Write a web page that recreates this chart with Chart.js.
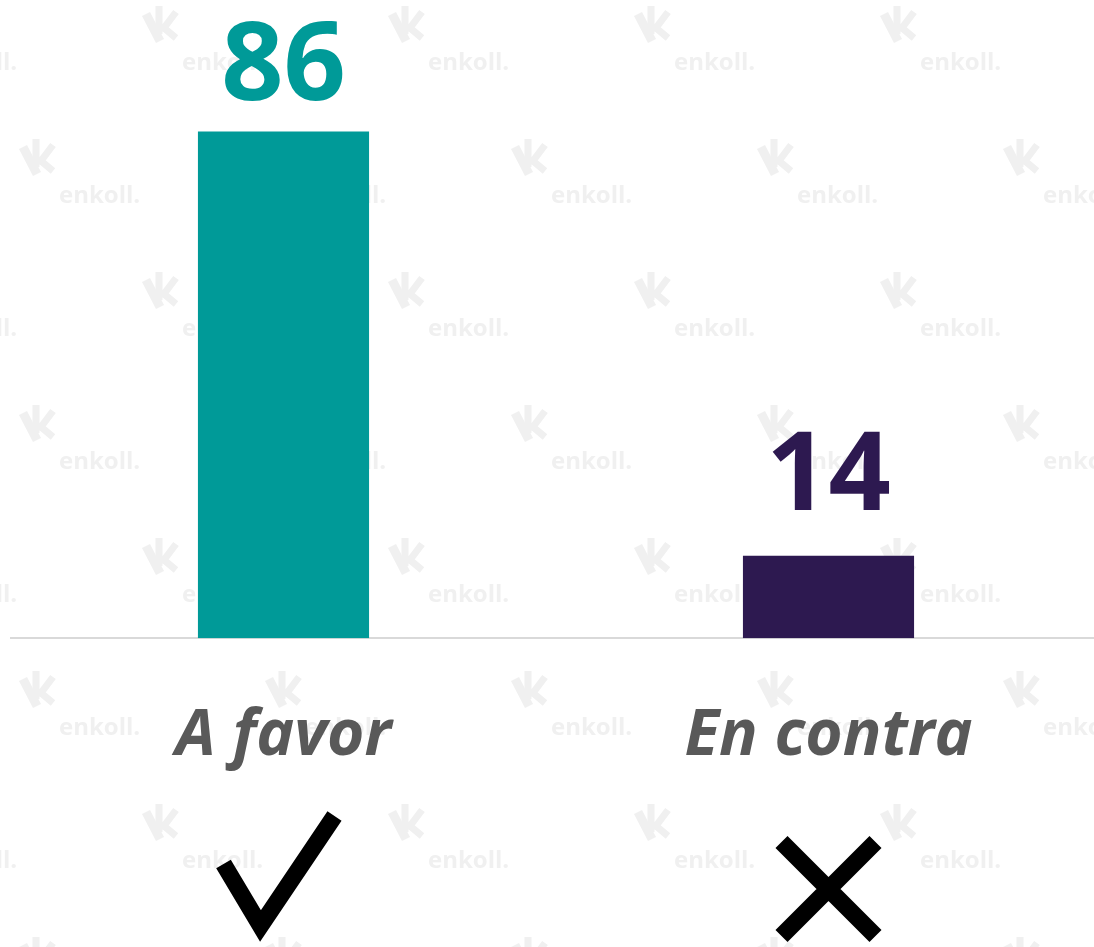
<!DOCTYPE html>
<html>
<head>
<meta charset="utf-8">
<script src="https://cdn.jsdelivr.net/npm/chart.js@4.4.0/dist/chart.umd.min.js"></script>
<style>
  html, body { margin: 0; padding: 0; background: #fff; overflow: hidden; }
  #wrap { position: absolute; left: 0; top: 0; width: 1101px; height: 947px; }
</style>
</head>
<body>
<div id="wrap"><canvas id="chart"></canvas></div>
<script>
// Datos
const categories = ["A favor", "En contra"];
const values = [86, 14];
const barColors = ["#009a98", "#2d1950"];
const icons = ["check", "cross"];

// Marca de agua "enkoll." de fondo
const watermark = {
  id: "watermark",
  beforeDraw(chart) {
    const ctx = chart.ctx;
    ctx.save();
    ctx.fillStyle = "#fff";
    ctx.fillRect(0, 0, chart.width, chart.height);
    ctx.fillStyle = "#f0f0f0";
    ctx.strokeStyle = "#f0f0f0";
    ctx.font = "bold 24px 'Open Sans'";
    ctx.textBaseline = "alphabetic";
    for (let r = 0; r < 8; r++) {
      const by = 70 + r * 133;
      const x0 = r % 2 === 0 ? -64 : 59;
      for (let k = 0; k < 6; k++) {
        const tx = x0 + k * 246;
        ctx.fillText("enkoll.", tx, by);
        // logo
        ctx.lineWidth = 9;
        ctx.beginPath();
        ctx.moveTo(tx - 36, by - 56);
        ctx.lineTo(tx - 22, by - 29);
        ctx.stroke();
        ctx.lineWidth = 7;
        ctx.beginPath();
        ctx.moveTo(tx - 23, by - 64);
        ctx.lineTo(tx - 23, by - 36);
        ctx.moveTo(tx - 6, by - 58);
        ctx.lineTo(tx - 18, by - 42);
        ctx.lineTo(tx - 6, by - 32);
        ctx.stroke();
      }
    }
    ctx.restore();
  }
};

// Valores encima de las barras
const valueLabels = {
  id: "valueLabels",
  afterDatasetsDraw(chart, args, opts) {
    const ctx = chart.ctx;
    const meta = chart.getDatasetMeta(0);
    ctx.save();
    ctx.font = "bold 109px 'Open Sans'";
    ctx.textAlign = "center";
    ctx.textBaseline = "alphabetic";
    meta.data.forEach((bar, i) => {
      ctx.fillStyle = barColors[i];
      ctx.fillText(String(values[i]), bar.x, bar.y - opts.offsets[i]);
    });
    ctx.restore();
  }
};

// Iconos ✓ / ✗ debajo de las categorías
const iconMarks = {
  id: "iconMarks",
  afterDraw(chart) {
    const ctx = chart.ctx;
    const x = chart.scales.x;
    ctx.save();
    ctx.strokeStyle = "#000";
    ctx.lineWidth = 17;
    ctx.lineCap = "butt";
    ctx.lineJoin = "miter";
    icons.forEach((type, i) => {
      const c = x.getPixelForValue(i);
      ctx.beginPath();
      if (type === "check") {
        ctx.moveTo(c - 60, 864);
        ctx.lineTo(c - 23, 926);
        ctx.lineTo(c + 51, 816);
      } else {
        ctx.moveTo(c - 47, 842);
        ctx.lineTo(c + 47, 936);
        ctx.moveTo(c + 47, 842);
        ctx.lineTo(c - 47, 936);
      }
      ctx.stroke();
    });
    ctx.restore();
  }
};

new Chart(document.getElementById("chart"), {
  type: "bar",
  data: {
    labels: categories,
    datasets: [{
      data: values,
      backgroundColor: barColors,
      borderWidth: 0,
      barPercentage: 0.314,
      categoryPercentage: 1
    }]
  },
  options: {
    responsive: true,
    maintainAspectRatio: false,
    animation: false,
    layout: { padding: { top: 49, bottom: 112, left: 11, right: 0 } },
    plugins: {
      legend: { display: false },
      tooltip: { enabled: false },
      valueLabels: { offsets: [31, 46] }
    },
    scales: {
      x: {
        grid: { drawOnChartArea: false, drawTicks: false },
        border: { display: true, color: "#d9d9d9", width: 2 },
        ticks: {
          color: "#595959",
          padding: 60,
          font: { family: "'Open Sans'", size: 64, weight: "bold", style: "italic" }
        }
      },
      y: { display: false, min: 0, max: 100 }
    }
  },
  plugins: [watermark, valueLabels, iconMarks]
});
</script>
</body>
</html>
